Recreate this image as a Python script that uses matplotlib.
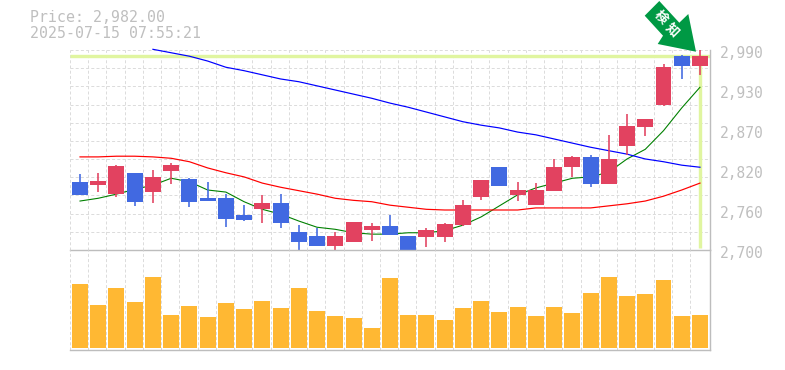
import matplotlib
matplotlib.use("Agg")
import matplotlib.pyplot as plt
from matplotlib.patches import Polygon
from matplotlib.ticker import FixedLocator
from matplotlib.transforms import Affine2D

W, H = 785, 370
dates = ["6/3", "6/10", "6/17", "6/24", "7/1", "7/8", "7/15"]
date_bars = [4, 9, 14, 19, 24, 29, 34]

opens = [2799,2794,2781,2812,2784,2815,2803,2775,2775,2751,2759,2768,2726,2720,2706,2712,2729,2735,2720,2719,
         2719,2736,2777,2820,2780,2765,2786,2820,2835,2796,2851,2878,2910,2981,2967]
highs = [2810,2812,2823,2812,2816,2826,2804,2799,2781,2765,2780,2781,2736,2732,2726,2741,2739,2751,2720,2732,
         2739,2772,2802,2820,2799,2797,2832,2836,2838,2867,2897,2890,2970,2983,2990]
lows = [2780,2784,2777,2764,2768,2796,2762,2771,2733,2742,2739,2732,2699,2706,2699,2712,2713,2722,2699,2704,
        2712,2735,2772,2793,2771,2765,2786,2806,2791,2796,2838,2865,2909,2948,2954]
closes = [2780,2800,2822,2770,2806,2823,2770,2771,2745,2743,2768,2739,2712,2706,2720,2741,2735,2722,2700,2729,
          2738,2765,2802,2793,2787,2787,2820,2835,2796,2832,2880,2890,2965,2967,2982]
ma_short = [2771,2775,2781,2788,2794,2804,2799,2787,2784,2770,2759,2752,2742,2733,2730,2725,2723,2723,2725,2725,
            2728,2736,2748,2764,2780,2790,2797,2804,2806,2813,2832,2846,2873,2906,2936]
ma_mid = [2835,2835,2836,2836,2835,2833,2828,2819,2812,2806,2797,2791,2786,2781,2775,2772,2770,2765,2762,2759,
          2758,2758,2758,2758,2758,2761,2761,2761,2761,2764,2767,2771,2778,2787,2797]
ma_long_start = 4
ma_long = [2991,2986,2981,2974,2965,2960,2954,2948,2944,2938,2932,2926,2920,2913,2907,2900,2893,2886,2881,2877,
           2871,2867,2861,2855,2849,2844,2839,2832,2828,2823,2820]
volumes = [64,43,60,46,71,33,42,31,45,39,47,40,60,37,32,30,20,70,33,33,28,40,47,36,41,32,41,35,55,71,52,54,68,32,33]
price_ticks = [2700, 2758, 2816, 2874, 2932, 2990]
price_labels = ["2,700", "2,760", "2,820", "2,870", "2,930", "2,990"]
current_price = 2982
title_lines = ["Price: 2,982.00", "2025-07-15 07:55:21"]

RED, BLUE, ORANGE = "#e24260", "#4169e1", "#ffb833"
HILITE, GRID, AXIS, TXT, TXT2 = "#e0f5a0", "#dcdcdc", "#bdbdbd", "#bfbfbf", "#c4c4c4"
MONO = "DejaVu Sans Mono"
px = 0.72

fig = plt.figure(figsize=(W / 100, H / 100), dpi=100)
fig.patch.set_facecolor("white")

def axes_px(l, t, r, b):
    return fig.add_axes([l / W, 1 - b / H, (r - l) / W, (b - t) / H])

ax = axes_px(70, 50, 710, 250)
vol = axes_px(70, 250, 710, 350)
n = len(closes)
xs = list(range(n))
xlim = (-0.548, 34.55)
grid_x = [xlim[0] + k for k in range(35)]

for a in (ax, vol):
    a.set_xlim(*xlim)
    a.set_facecolor("none")
    a.xaxis.set_major_locator(FixedLocator(grid_x))
    a.grid(True, axis="x", color=GRID, lw=1 * px, ls=(0, (3, 2.2)), zorder=0)
    a.set_axisbelow(True)
    a.tick_params(length=0)
    a.spines["left"].set_visible(False)
    a.spines["top"].set_visible(False)
    a.spines["right"].set_color(AXIS)
    a.spines["right"].set_linewidth(1.4 * px)
    a.spines["bottom"].set_color(AXIS)
    a.spines["bottom"].set_linewidth(1.4 * px)

# price panel
ax.set_ylim(2700, 2990)
ax.set_yticks([])
ax.set_yticks([2700 + k * 290 / 11 for k in range(12)], minor=True)
ax.tick_params(axis="y", which="minor", length=0, labelleft=False)
ax.grid(True, axis="y", which="minor", color=GRID, lw=1 * px, ls=(0, (3, 2.2)), zorder=0)
ax.set_xticklabels([])
for value, label in zip(price_ticks, price_labels):
    ax.annotate(label, xy=(1, value), xycoords=("axes fraction", "data"), xytext=(7.2, -2.2),
                textcoords="offset points", fontfamily=MONO, fontsize=10.5, color=TXT, ha="left", va="center",
                annotation_clip=False)

ax.hlines(current_price, *xlim, color=HILITE, lw=3.4 * px, zorder=1)
ax.vlines(xs[-1], 2703, current_price, color=HILITE, lw=3.4 * px, zorder=1)

ax.plot(xs, ma_short, color="#008000", lw=1.1 * px, zorder=2, clip_on=False)
ax.plot(xs, ma_mid, color="#ff0000", lw=1.2 * px, zorder=2, clip_on=False)
ax.plot(xs[ma_long_start:], ma_long, color="#0000ff", lw=1.2 * px, zorder=2, clip_on=False)

colors = [RED if c >= o else BLUE for o, c in zip(opens, closes)]
ax.vlines(xs, lows, highs, colors=colors, lw=1.6 * px, zorder=3, clip_on=False)
ax.bar(xs, [abs(c - o) for o, c in zip(opens, closes)], bottom=[min(o, c) for o, c in zip(opens, closes)],
       width=0.877, color=colors, lw=0, zorder=4, clip_on=False)

# volume panel
vol.set_ylim(-2, 98)
vol.set_yticks([])
vol.bar(xs, volumes, width=0.877, color=ORANGE, lw=0, zorder=3)
vol.xaxis.set_ticks_position("top")
vol.set_xticks([b + xlim[0] for b in date_bars], labels=dates, minor=True, fontfamily=MONO,
               fontsize=7.2, color=TXT2, ha="left")
vol.tick_params(axis="x", which="minor", length=0, pad=-12.5)
vol.tick_params(axis="x", which="major", labeltop=False, labelbottom=False)
ax.spines["bottom"].set_zorder(6)

# header
for text, y in zip(title_lines, (18, 33)):
    fig.text(30 / W, 1 - y / H, text, fontfamily=MONO, fontsize=10.7, color=TXT, va="center", ha="left")

# green arrow (decoration in figure pixels)
arrow_px = [(659.3, 1), (644.7, 15.7), (663, 35.7), (657.7, 44), (696, 51.7), (688.3, 14), (679.3, 22.7)]
to_fig = Affine2D().scale(1 / W, -1 / H).translate(0, 1) + fig.transFigure
fig.add_artist(Polygon(arrow_px, closed=True, facecolor="#009944", edgecolor="none", transform=to_fig, zorder=8))
for ch, (cx, cy) in zip("検知", [(660.5, 17.5), (672, 30)]):
    fig.text(cx / W, 1 - cy / H, ch, family=["Noto Sans CJK JP", "DejaVu Sans"], fontweight="bold", fontsize=9.5,
             color="white", rotation=-45, rotation_mode="anchor", ha="center", va="center", zorder=9)

fig.savefig("out.png", dpi=100, facecolor="white")
